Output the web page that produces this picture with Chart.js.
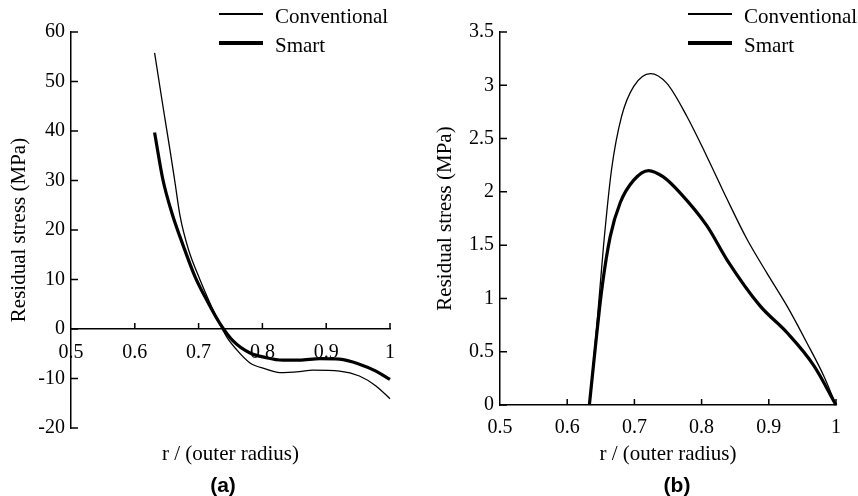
<!DOCTYPE html>
<html>
<head>
<meta charset="utf-8">
<title>Residual stress</title>
<script src="https://cdn.jsdelivr.net/npm/chart.js@4.4.0/dist/chart.umd.min.js"></script>
<style>
  body { margin: 0; background: #fff; }
  #page { position: relative; width: 858px; height: 496px; font-family: "Liberation Serif", "Times New Roman", serif; color: #000; }
  .panel { position: absolute; top: 0; height: 496px; }
  #panelA { left: 0; width: 430px; }
  #panelB { left: 430px; width: 428px; }
  .legend .sample { position: absolute; width: 44px; background: #000; }
  .legend .name { position: absolute; font-size: 21px; line-height: 24px; white-space: nowrap; }
  .tag { position: absolute; top: 473px; font: bold 21px "Liberation Sans", Arial, sans-serif; line-height: 24px; transform: translateX(-50%); }
</style>
</head>
<body>
<div id="page">
  <div class="panel" id="panelA"><canvas id="chartA"></canvas></div>
  <div class="panel" id="panelB"><canvas id="chartB"></canvas></div>
  <div class="legend" id="legendA"></div>
  <div class="legend" id="legendB"></div>
  <div class="tag" style="left:223px">(a)</div>
  <div class="tag" style="left:677px">(b)</div>
</div>
<script>
// series names and axis ticks
const seriesNames = ['Conventional', 'Smart'];
const xTicks = [0.5, 0.6, 0.7, 0.8, 0.9, 1];
const yTicksA = [-20, -10, 0, 10, 20, 30, 40, 50, 60];
const yTicksB = [0, 0.5, 1, 1.5, 2, 2.5, 3, 3.5];
const xTitle = 'r / (outer radius)';
const yTitle = 'Residual stress (MPa)';

// (a) values
const convA_r = [0.631, 0.644, 0.655, 0.663, 0.671, 0.684, 0.702, 0.720, 0.733, 0.745, 0.759, 0.780, 0.806, 0.827, 0.858, 0.879, 0.921, 0.952, 0.978, 1.0];
const convA_s = [55.8, 45.1, 36.3, 29.6, 22.8, 16.1, 10.0, 4.6, 1.0, -1.8, -4.1, -6.8, -8.1, -8.8, -8.6, -8.3, -8.5, -9.5, -11.5, -14.1];
const smartA_r = [0.631, 0.644, 0.658, 0.676, 0.694, 0.715, 0.733, 0.754, 0.780, 0.806, 0.832, 0.858, 0.890, 0.921, 0.952, 0.978, 1.0];
const smartA_s = [39.7, 30.2, 23.5, 16.8, 10.7, 5.3, 1.2, -2.4, -4.8, -5.8, -6.3, -6.3, -6.0, -6.1, -7.1, -8.5, -10.2];

// (b)
const convB_r = [0.633, 0.644, 0.654, 0.666, 0.681, 0.699, 0.724, 0.748, 0.778, 0.808, 0.838, 0.868, 0.897, 0.927, 0.957, 0.982, 1.0];
const convB_s = [0, 0.74, 1.49, 2.21, 2.71, 2.99, 3.11, 3.02, 2.71, 2.33, 1.93, 1.55, 1.24, 0.93, 0.58, 0.27, 0];
const smartB_r = [0.633, 0.642, 0.652, 0.664, 0.679, 0.699, 0.721, 0.743, 0.768, 0.808, 0.838, 0.887, 0.927, 0.967, 1.0];
const smartB_s = [0, 0.55, 1.11, 1.58, 1.90, 2.11, 2.20, 2.14, 1.99, 1.68, 1.36, 0.93, 0.68, 0.37, 0];

const serif = '"Liberation Serif", "Times New Roman", serif';

function zip(xs, ys) {
    return xs.map((x, i) => ({ x: x, y: ys[i] }));
}

// small tick marks pointing into the plot
const inwardTicks = {
    id: 'inwardTicks',
    afterDatasetsDraw(chart) {
        const ctx = chart.ctx;
        const sx = chart.scales.x, sy = chart.scales.y;
        const y0 = sy.getPixelForValue(0);
        const x0 = chart.chartArea.left;
        ctx.save();
        ctx.strokeStyle = '#000';
        ctx.lineWidth = 1.5;
        ctx.beginPath();
        sx.ticks.forEach(t => {
            if (t.value === sx.min) return;
            const px = sx.getPixelForValue(t.value);
            ctx.moveTo(px, y0);
            ctx.lineTo(px, y0 - 6);
        });
        sy.ticks.forEach(t => {
            const py = sy.getPixelForValue(t.value);
            ctx.moveTo(x0, py);
            ctx.lineTo(x0 + 7, py);
        });
        ctx.stroke();
        ctx.restore();
    }
};

function makeChart(id, conv, smart, yMin, yMax, yTicks, layout) {
    const ctx = document.getElementById(id).getContext('2d');
    return new Chart(ctx, {
        type: 'line',
        data: {
            datasets: [{
                label: seriesNames[0],
                data: conv,
                borderColor: '#000',
                borderWidth: 1.3,
                pointRadius: 0,
                cubicInterpolationMode: 'monotone',
                clip: 4
            }, {
                label: seriesNames[1],
                data: smart,
                borderColor: '#000',
                borderWidth: 3.2,
                pointRadius: 0,
                cubicInterpolationMode: 'monotone',
                clip: 4
            }]
        },
        options: {
            responsive: true,
            maintainAspectRatio: false,
            animation: false,
            devicePixelRatio: 1,
            layout: { padding: layout.padding },
            scales: {
                x: {
                    type: 'linear',
                    position: { y: 0 },
                    min: 0.5,
                    max: 1,
                    afterBuildTicks: s => { s.ticks = xTicks.map(v => ({ value: v })); },
                    grid: { display: true, drawOnChartArea: false, drawTicks: false },
                    border: { display: true, color: '#000', width: 1.5 },
                    ticks: {
                        color: '#000',
                        font: { family: serif, size: 20 },
                        padding: layout.xPad,
                        maxRotation: 0,
                        autoSkip: false,
                        callback: v => String(v)
                    }
                },
                y: {
                    type: 'linear',
                    position: 'left',
                    min: yMin,
                    max: yMax,
                    afterBuildTicks: s => { s.ticks = yTicks.map(v => ({ value: v })); },
                    afterFit: s => { s.width = layout.yWidth; },
                    grid: { display: true, drawOnChartArea: false, drawTicks: false },
                    border: { display: true, color: '#000', width: 1.5 },
                    ticks: {
                        color: '#000',
                        font: { family: serif, size: 20 },
                        padding: 6,
                        autoSkip: false,
                        callback: v => String(v)
                    },
                    title: {
                        display: true,
                        text: yTitle,
                        color: '#000',
                        font: { family: serif, size: 21, lineHeight: 1 },
                        padding: { top: layout.yTitlePad, bottom: 0 }
                    }
                }
            },
            plugins: {
                legend: { display: false },
                tooltip: { enabled: false },
                subtitle: {
                    display: true,
                    position: 'bottom',
                    fullSize: false,
                    text: xTitle,
                    color: '#000',
                    font: { family: serif, size: 21, weight: 'normal', lineHeight: 1 },
                    padding: { top: layout.subPad, bottom: 0 }
                }
            }
        },
        plugins: [inwardTicks]
    });
}

// HTML legend, one row per series
function buildLegend(elId, left, top) {
    const box = document.getElementById(elId);
    box.style.position = 'absolute';
    box.style.left = left + 'px';
    box.style.top = top + 'px';
    const rows = [{ y: 14, h: 1.4, ty: 4 }, { y: 43, h: 4, ty: 33 }];
    seriesNames.forEach((name, i) => {
        const s = document.createElement('div');
        s.className = 'sample';
        s.style.left = '0px';
        s.style.top = (rows[i].y - rows[i].h / 2) + 'px';
        s.style.height = rows[i].h + 'px';
        box.appendChild(s);
        const t = document.createElement('div');
        t.className = 'name';
        t.style.left = '56px';
        t.style.top = rows[i].ty + 'px';
        t.textContent = name;
        box.appendChild(t);
    });
}

makeChart('chartA', zip(convA_r, convA_s), zip(smartA_r, smartA_s), -20, 60, yTicksA, {
    padding: { left: 0, top: 32, right: 40, bottom: 31 },
    yWidth: 71, yTitlePad: 8.5, xPad: 12, subPad: 16
});
makeChart('chartB', zip(convB_r, convB_s), zip(smartB_r, smartB_s), 0, 3.5, yTicksB, {
    padding: { left: 0, top: 32, right: 22, bottom: 31 },
    yWidth: 70, yTitlePad: 4.5, xPad: 11, subPad: 39
});
buildLegend('legendA', 219, 0);
buildLegend('legendB', 688, 0);
</script>
</body>
</html>
